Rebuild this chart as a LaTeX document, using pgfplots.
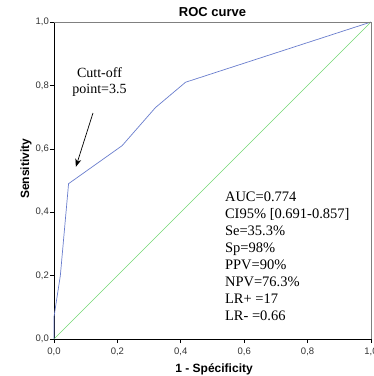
\documentclass[border=0pt]{standalone}
\usepackage{fontspec}
\setmainfont{Liberation Serif}
\setsansfont{Liberation Sans}
\usepackage{pgfplots}
\usetikzlibrary{arrows.meta}
\pgfplotsset{compat=1.18}
\definecolor{rocblue}{RGB}{105,125,205}
\definecolor{refgreen}{RGB}{115,215,115}
\begin{document}
\begin{tikzpicture}
\begin{axis}[name=ax,
  scale only axis, width=317pt, height=317pt,
  xmin=0, xmax=1, ymin=0, ymax=1,
  axis x line*=bottom, axis y line*=left,
  axis line style={black, line width=0.9pt, -},
  xtick={0,0.2,0.4,0.6,0.8,1}, ytick={0,0.2,0.4,0.6,0.8,1},
  tick align=outside, major tick length=4pt,
  tick style={black, line width=0.6pt},
  /pgf/number format/.cd, fixed, fixed zerofill, precision=1, use comma, assume math mode=true,
  /pgfplots/.cd,
  tick label style={font=\sffamily\fontsize{9.5}{11}\selectfont, text=black!80},
  yticklabel style={inner sep=1pt},
  xticklabel style={inner sep=2pt, yshift=-2.5pt},
  title={\sffamily\bfseries\fontsize{13}{15}\selectfont ROC curve},
  title style={at={(axis description cs:0.5,1)}, anchor=base, yshift=-0.5pt, inner sep=0pt},
  xlabel={\sffamily\bfseries\fontsize{12}{14}\selectfont 1 - Spécificity},
  ylabel={\sffamily\bfseries\fontsize{12}{14}\selectfont Sensitivity},
  xlabel style={at={(axis description cs:0.505,0)}, anchor=base, yshift=-33.5pt, inner sep=0pt},
  ylabel style={at={(axis description cs:-0.088,0.537)}, anchor=center, inner sep=0pt},
  clip=false,
]
\addplot[refgreen, line width=0.6pt] coordinates {(0,0) (1,1)};
\addplot[rocblue, line width=0.7pt] coordinates {
(0,0) (0,0.07) (0.02,0.2) (0.046,0.49) (0.215,0.61) (0.32,0.73) (0.415,0.81) (1,1)};
\draw[gray, line width=0.6pt] (rel axis cs:0,1) -- (rel axis cs:1,1) -- (rel axis cs:1,0);
\draw[black, line width=0.7pt, -{Stealth[length=8pt,width=6pt]}] (axis cs:0.123,0.713) -- (axis cs:0.069,0.543);
\node[anchor=base, inner sep=0pt, font=\fontsize{14}{16}\selectfont] at (axis cs:0.1435,0.8265) {Cutt-off};
\node[anchor=base, inner sep=0pt, font=\fontsize{14}{16}\selectfont] at (axis cs:0.1435,0.776) {point=3.5};
\node[align=left, anchor=north west, inner sep=0pt, font=\fontsize{14.5}{17}\selectfont] at (axis cs:0.539,0.466)
{AUC=0.774\\CI95\% [0.691-0.857]\\Se=35.3\%\\Sp=98\%\\PPV=90\%\\NPV=76.3\%\\LR+ =17\\LR- =0.66};
\end{axis}
\pgfresetboundingbox
\path ([shift={(-54pt,-37pt)}]ax.south west) rectangle ([shift={(3pt,22pt)}]ax.north east);
\end{tikzpicture}
\end{document}
